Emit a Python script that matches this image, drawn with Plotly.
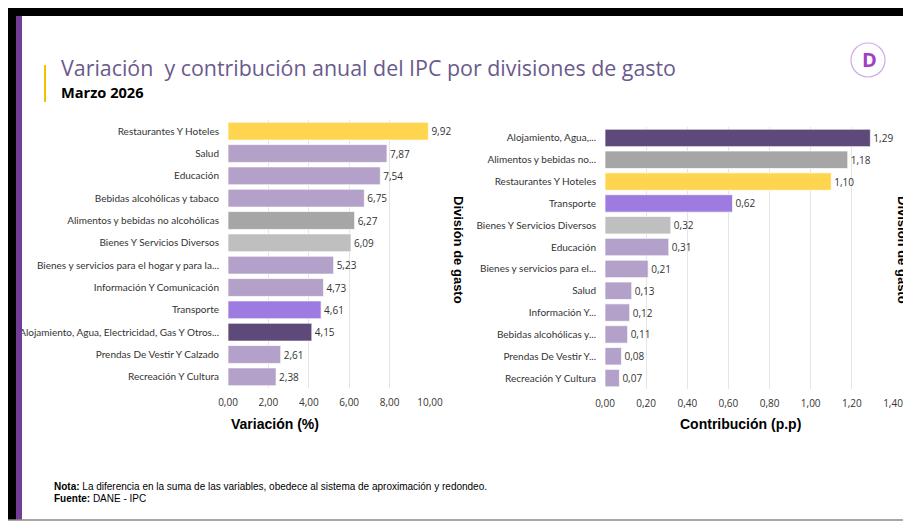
import plotly.graph_objects as go

W, H = 903, 514
OFF = 8  # page body margin around the figure

# ── Data ────────────────────────────────────────────────────────────────
var_labels = [
    "Restaurantes Y Hoteles", "Salud", "Educación", "Bebidas alcohólicas y tabaco",
    "Alimentos y bebidas no alcohólicas", "Bienes Y Servicios Diversos",
    "Bienes y servicios para el hogar y para la...", "Información Y Comunicación",
    "Transporte", "Alojamiento, Agua, Electricidad, Gas Y Otros...",
    "Prendas De Vestir Y Calzado", "Recreación Y Cultura",
]
var_values = [9.92, 7.87, 7.54, 6.75, 6.27, 6.09, 5.23, 4.73, 4.61, 4.15, 2.61, 2.38]
var_groups = ["rest", "other", "other", "other", "alim", "bienes", "other", "other",
              "transp", "aloj", "other", "other"]

con_labels = [
    "Alojamiento, Agua,...", "Alimentos y bebidas no...", "Restaurantes Y Hoteles",
    "Transporte", "Bienes Y Servicios Diversos", "Educación",
    "Bienes y servicios para el...", "Salud", "Información Y...",
    "Bebidas alcohólicas y...", "Prendas De Vestir Y...", "Recreación Y Cultura",
]
con_values = [1.29, 1.18, 1.10, 0.62, 0.32, 0.31, 0.21, 0.13, 0.12, 0.11, 0.08, 0.07]
con_groups = ["aloj", "alim", "rest", "transp", "bienes", "other", "other", "other",
              "other", "other", "other", "other"]

var_ticks = [0, 2, 4, 6, 8, 10]
con_ticks = [0, 0.2, 0.4, 0.6, 0.8, 1.0, 1.2, 1.4]

GROUP_COLORS = {
    "rest": "#FFD54F",
    "other": "#B3A1C9",
    "alim": "#A6A6A6",
    "bienes": "#BFBFBF",
    "transp": "#9E7BE0",
    "aloj": "#5E4A7A",
}

FONT = "Open Sans, Noto Sans, sans-serif"
LABEL_FONT = "Lato, Open Sans, sans-serif"
ARIAL = "Liberation Sans, Arial, sans-serif"
NARROW = "Liberation Sans Narrow, Arial Narrow, Liberation Sans, sans-serif"
TXT = "#333333"


def px(x):
    return (x - OFF) / W


def py(y):
    return 1 - (y - OFF) / H


fig = go.Figure()

fig.add_trace(go.Bar(
    x=var_values, y=var_labels, orientation="h",
    marker=dict(color=[GROUP_COLORS[g] for g in var_groups],
                line=dict(color="rgba(255,255,255,0.7)", width=1)),
    texttemplate="%{x:.2f}", textposition="outside",
    textfont=dict(family=FONT, size=10, color=TXT),
    cliponaxis=False, xaxis="x", yaxis="y", showlegend=False,
))

fig.add_trace(go.Bar(
    x=con_values, y=con_labels, orientation="h",
    marker=dict(color=[GROUP_COLORS[g] for g in con_groups],
                line=dict(color="rgba(255,255,255,0.7)", width=1)),
    texttemplate="%{x:.2f}", textposition="outside",
    textfont=dict(family=FONT, size=10, color=TXT),
    cliponaxis=False, xaxis="x2", yaxis="y2", showlegend=False,
))

axis_common = dict(
    showgrid=True, gridcolor="#E4E4E4", gridwidth=1, zeroline=False,
    showline=False, tickformat=".2f", automargin=False,
    tickfont=dict(family=FONT, size=10, color=TXT), ticks="", ticklabelstandoff=7,
)
yaxis_common = dict(
    type="category", autorange="reversed", showgrid=False, zeroline=False,
    automargin=False,
    tickfont=dict(family=LABEL_FONT, size=10, color=TXT), ticks="", ticklabelstandoff=8,
)

# ── Decorations ──────────────────────────────────────────────────────────
shapes = [
    dict(type="rect", xref="paper", yref="paper", x0=px(8), x1=1, y0=py(16), y1=py(8),
         fillcolor="#000000", line=dict(width=0), layer="above"),
    dict(type="rect", xref="paper", yref="paper", x0=px(8), x1=px(16), y0=py(520), y1=py(8),
         fillcolor="#000000", line=dict(width=0), layer="above"),
    dict(type="rect", xref="paper", yref="paper", x0=px(16), x1=px(22), y0=py(520), y1=py(16),
         fillcolor="#723C97", line=dict(width=0), layer="above"),
    dict(type="line", xref="paper", yref="paper", x0=0, x1=1, y0=py(520), y1=py(520),
         line=dict(color="#8A8A8A", width=1.5)),
    dict(type="line", xref="paper", yref="paper", x0=px(45), x1=px(45), y0=py(102), y1=py(65),
         line=dict(color="#F5C000", width=2)),
    dict(type="circle", xref="paper", yref="paper", x0=px(851), x1=px(885), y0=py(77), y1=py(43),
         line=dict(color="#CFA8EA", width=1.2)),
]

annotations = [
    dict(text="Variación  y contribución anual del IPC por divisiones de gasto",
         x=px(59), y=py(67), xref="paper", yref="paper", xanchor="left", yanchor="middle",
         showarrow=False, font=dict(family=FONT, size=21.4, color="#6A5A8C")),
    dict(text="<b>Marzo 2026</b>", x=px(59), y=py(92), xref="paper", yref="paper",
         xanchor="left", yanchor="middle", showarrow=False,
         font=dict(family=FONT, size=14.6, color="#000000")),
    dict(text="<b>D</b>", x=px(869), y=py(60), xref="paper", yref="paper",
         xanchor="center", yanchor="middle", showarrow=False,
         font=dict(family=FONT, size=20, color="#A33FC4")),
    dict(text="<b>Variación (%)</b>", x=px(275), y=py(424), xref="paper", yref="paper",
         xanchor="center", yanchor="middle", showarrow=False,
         font=dict(family=ARIAL, size=14, color="#000000")),
    dict(text="<b>Contribución (p.p)</b>", x=px(740), y=py(424), xref="paper", yref="paper",
         xanchor="center", yanchor="middle", showarrow=False,
         font=dict(family=ARIAL, size=14, color="#000000")),
    dict(text="<b>División de gasto</b>", x=px(459), y=py(250), xref="paper", yref="paper",
         xanchor="center", yanchor="middle", showarrow=False, textangle=90,
         font=dict(family=ARIAL, size=13, color="#000000")),
    dict(text="<b>División de gasto</b>", x=px(903), y=py(250), xref="paper", yref="paper",
         xanchor="center", yanchor="middle", showarrow=False, textangle=90,
         font=dict(family=ARIAL, size=13, color="#000000")),
    dict(text="<b>Nota:</b> La diferencia en la suma de las variables, obedece al sistema de aproximación y redondeo.",
         x=px(52), y=py(486), xref="paper", yref="paper", xanchor="left", yanchor="middle",
         showarrow=False, font=dict(family=NARROW, size=10, color="#000000")),
    dict(text="<b>Fuente:</b> DANE - IPC",
         x=px(52), y=py(498), xref="paper", yref="paper", xanchor="left", yanchor="middle",
         showarrow=False, font=dict(family=NARROW, size=10, color="#000000")),
]

fig.update_layout(
    width=W, height=H, autosize=False,
    margin=dict(l=0, r=0, t=0, b=0),
    paper_bgcolor="#FFFFFF", plot_bgcolor="#FFFFFF",
    separators=",.",
    bargap=0.2,
    xaxis=dict(axis_common, domain=[px(228), px(430)], range=[0, 10],
               tickvals=var_ticks, anchor="y"),
    yaxis=dict(yaxis_common, domain=[py(388), py(120)], anchor="x"),
    xaxis2=dict(axis_common, domain=[px(605), px(893)], range=[0, 1.4],
                tickvals=con_ticks, anchor="y2"),
    yaxis2=dict(yaxis_common, domain=[py(389), py(127)], anchor="x2"),
    shapes=shapes,
    annotations=annotations,
)

fig.write_html("out.html")
